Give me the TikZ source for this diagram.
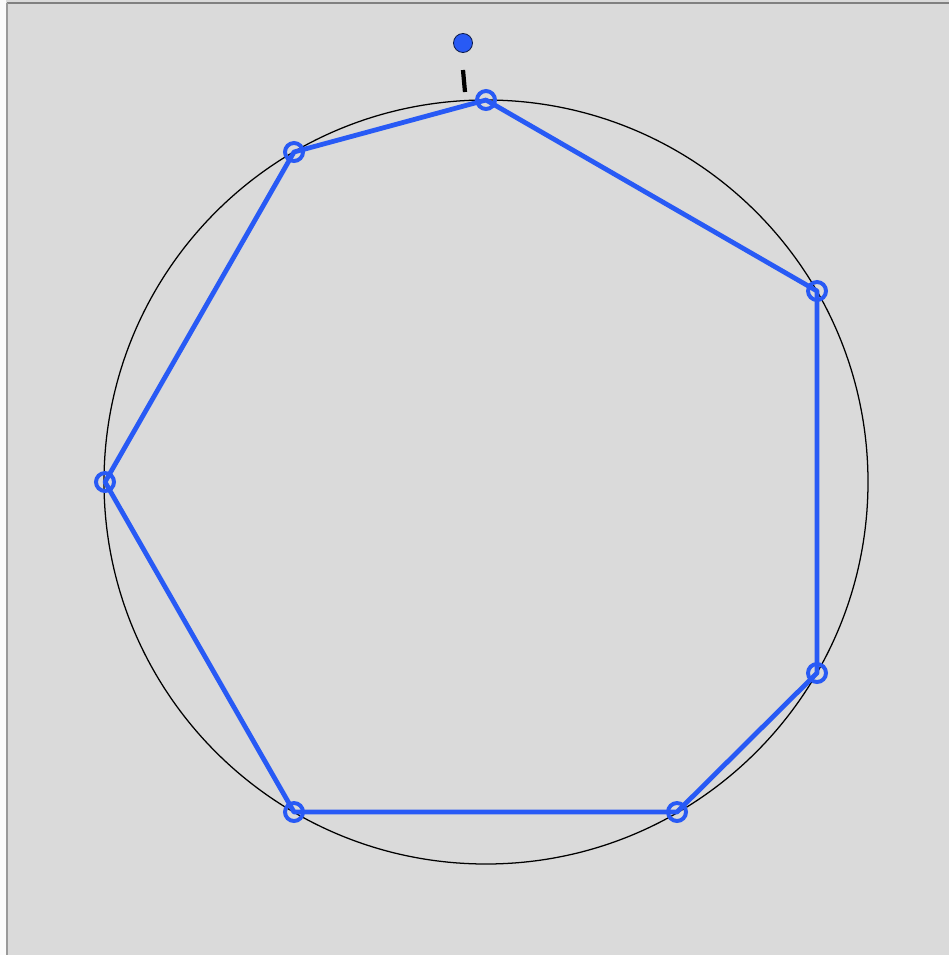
\documentclass[tikz,border=0pt]{standalone}
\usepackage{tikz}
\usetikzlibrary{calc}
\definecolor{polyblue}{RGB}{40,90,245}
\definecolor{bggray}{RGB}{218,218,218}

\begin{document}
\begin{tikzpicture}[x=0.025cm,y=-0.025cm]
  \useasboundingbox (0,0) rectangle (949,955);
  \fill[bggray] (0,0) rectangle (949,955);
  \fill[white!90!bggray] (0,0) rectangle (6,955);
  \draw[gray,line width=1.2pt] (7,3) -- (949,3);
  \draw[gray!80,line width=0.8pt] (7,3) -- (7,955);
  \coordinate (O) at (486,482);
  \coordinate (v1) at (486,100);
  \coordinate (v2) at (294,152);
  \coordinate (v3) at (105,482);
  \coordinate (v4) at (294,812);
  \coordinate (v5) at (677,812);
  \coordinate (v6) at (817,673);
  \coordinate (v7) at (817,291);
  \coordinate (d) at (463,43);
  \coordinate (t1) at (463,70);
  \coordinate (t2) at (465,92);
  \draw[black,line width=0.9pt] (O) circle (382);
  \draw[polyblue,line width=3.4pt,line join=round]
    (v1) -- (v2) -- (v3) -- (v4) -- (v5) -- (v6) -- (v7) -- cycle;
  % vertex markers
  \foreach \p in {v1,v2,v3,v4,v5,v6,v7} \draw[polyblue,line width=2.8pt] (\p) circle (9);
  \filldraw[fill=polyblue,draw=black!70!polyblue,line width=0.6pt] (d) circle (9.5);
  \draw[black,line width=3pt] (t1) -- (t2);
\end{tikzpicture}
\end{document}
